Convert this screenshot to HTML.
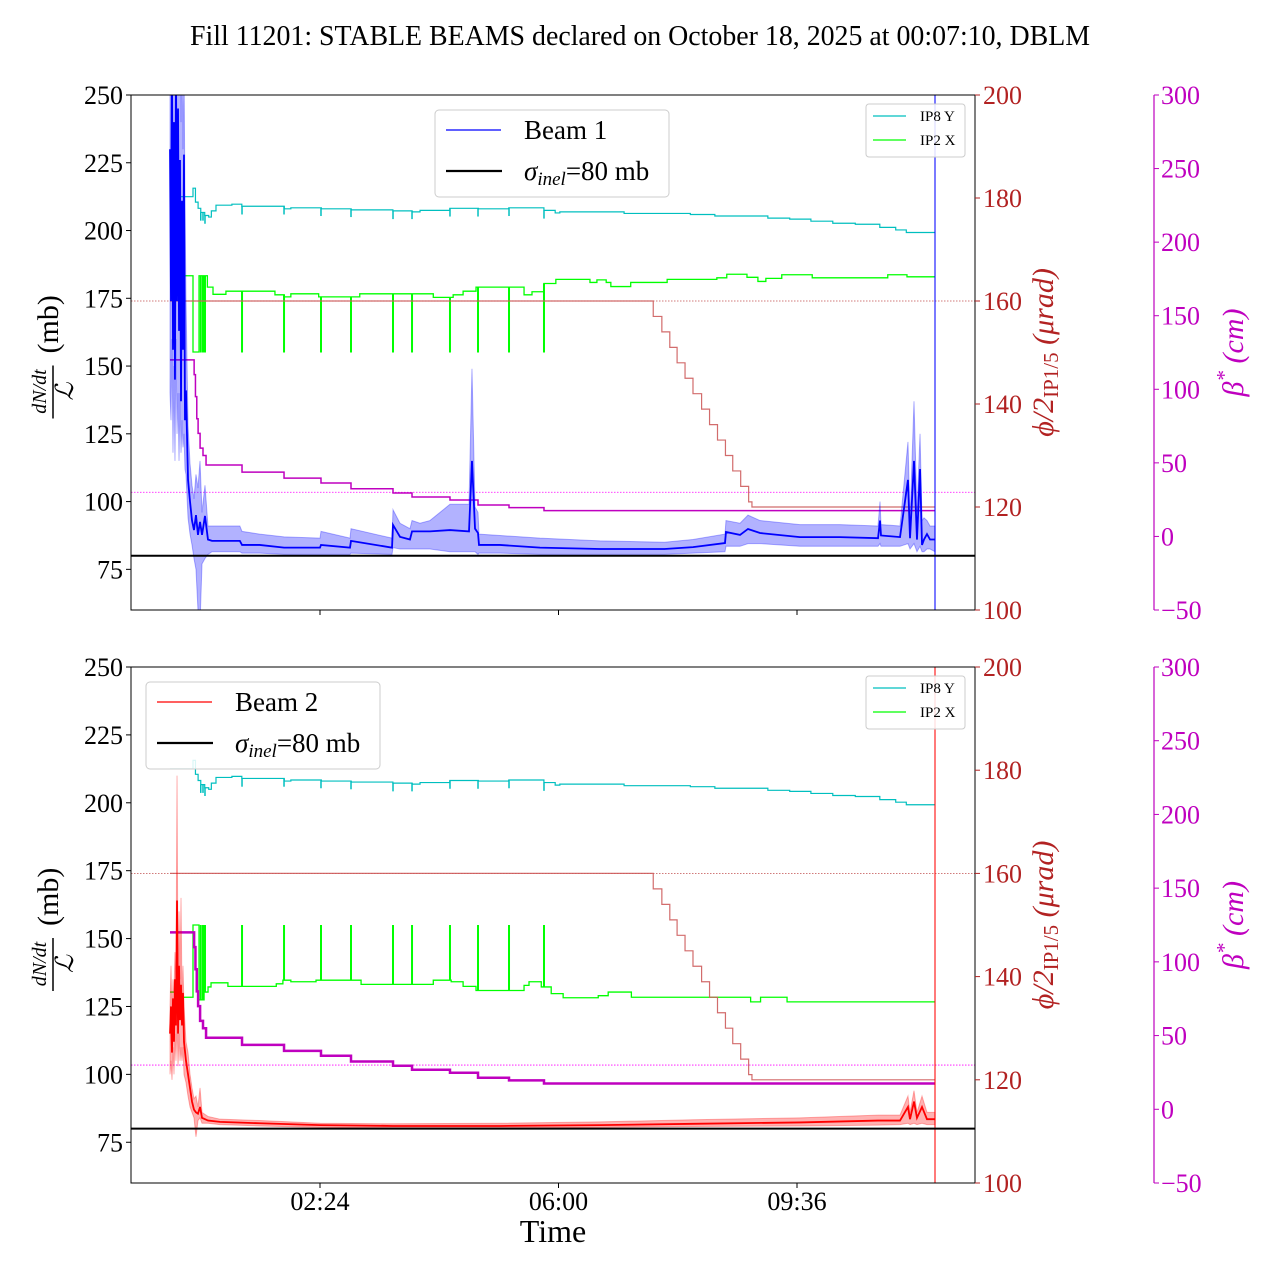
<!DOCTYPE html>
<html><head><meta charset="utf-8">
<style>
html,body{margin:0;padding:0;background:#fff;}
svg{display:block;font-family:"Liberation Serif","DejaVu Serif",serif;}
</style></head>
<body>
<svg id="chart" width="1280" height="1280" viewBox="0 0 1280 1280" xmlns="http://www.w3.org/2000/svg">
<rect x="0" y="0" width="1280" height="1280" fill="#fff"/>
<text x="640" y="45" font-size="28" text-anchor="middle" textLength="900" lengthAdjust="spacingAndGlyphs">Fill 11201: STABLE BEAMS declared on October 18, 2025 at 00:07:10, DBLM</text>
</svg>
<script>
// ---------- data ----------
const timeTickHours = [2.4, 6.0, 9.6];
const timeTickLabels = ["02:24", "06:00", "09:36"];
const leftTicks = [75, 100, 125, 150, 175, 200, 225, 250];
const phiTicks = [100, 120, 140, 160, 180, 200];
const betaTicks = [-50, 0, 50, 100, 150, 200, 250, 300];
const tEnd = 11.683;

const beam1T = [0.136,0.151,0.166,0.181,0.196,0.211,0.226,0.242,0.257,0.272,0.287,0.302,0.317,0.332,0.347,0.362,0.377,0.408,0.438,0.468,0.498,0.528,0.558,0.589,0.619,0.664,0.709,0.77,0.89,1.19,1.223,1.49,1.857,2.4,2.415,2.853,2.868,3.487,3.502,3.608,3.758,3.789,3.909,4.06,4.362,4.649,4.694,4.74,4.785,4.80,5.117,5.72,6.626,7.6,8.03,8.513,8.528,8.74,8.86,9.042,9.645,10.25,10.823,10.853,10.868,11.155,11.275,11.306,11.366,11.411,11.457,11.487,11.517,11.562,11.608,11.683];
const beam1Mid = [230,174,262,156,240,145,262,174,245,163,226,137,211,156,228,130,141,108,100,93,89.5,95,87.7,92.5,87.7,94.7,86,85.5,85.5,85.5,84,84,83,83,84,83,85.5,83,91.4,87,86,89,89,89,89.5,89,115,90,88.4,84,84,83,82.5,82.5,83.2,84.7,88.8,87.7,89.9,88.4,86.9,86.9,86.5,93,87.5,86.9,108,86.5,115,86,112,84,86,88,86,86];
const beam1Lo = [140,130,160,118,150,115,160,125,140,115,140,118,130,120,125,112,110,94,88,84,79,75,60,55,77,79,80.5,81.5,81.5,81.5,81,81,80.5,80.5,80.5,80.5,81,80.5,83,82.5,82.5,82.5,82.5,82.5,81.5,81.5,81.5,81.5,80.5,81,81,80.5,80.5,80.5,81,81.5,83.5,83.5,84.5,84.5,83.5,83.5,83.5,84.5,83.5,83.5,84.5,82.5,84.5,81.5,83.5,81.5,81.5,82.5,82.5,81.5];
const beam1Hi = [262,262,262,262,262,262,262,262,262,262,262,240,262,230,262,210,175,128,114,106,101,110,105,115,96,106,91,91,91,91,89,88,87,86.5,89,86.5,90,86.5,97,92,90,93,92,93,99,99,149,98,96,88,87.5,86.5,85.5,85,86,88,93,92,95,93,91.5,91.5,91,100,91.5,91,122,93,137,96,125,93,94,93,91,91];

const beam2T = [0.136,0.151,0.166,0.181,0.196,0.211,0.226,0.242,0.257,0.272,0.287,0.302,0.317,0.332,0.347,0.377,0.408,0.438,0.468,0.498,0.528,0.558,0.589,0.619,0.709,0.89,1.49,2.4,3.5,5.12,6.626,8.03,9.645,10.823,11.155,11.275,11.306,11.366,11.411,11.487,11.562,11.683];
const beam2Mid = [115,125,108,128,112,135,118,164,115,140,120,133,118,130,112,105,100,95,90,87,86,85.5,88,84,83,82.5,82,81.3,81,81,81.3,81.8,82.3,83,83,88,83.5,90,84,88,83.5,83.5];
const beam2Lo = [100,105,98,110,100,115,105,120,103,115,105,110,105,110,100,97,92,88,86,84,77,83,84,82,82,81.5,81,80.5,80.3,80.3,80.5,80.8,81,81.3,81.5,82,81.5,82,81.5,82,81.5,81.5];
const beam2Hi = [125,140,120,135,130,145,135,210,130,160,135,165,130,140,125,112,108,100,95,91,92,88,95,86,84.5,83.5,83,82,81.8,82,82.5,83.3,84,85,85,92,86,94,86,92,86,86];

const ip8T = [0.136,0.483,0.52,0.56,0.6,0.66,0.72,0.76,0.83,1.07,1.22,1.86,1.96,2.42,2.87,3.5,3.79,3.91,4.36,4.79,5.25,5.78,5.95,6.02,6.99,7.99,8.36,9.16,9.49,9.81,10.14,10.48,10.85,11.09,11.25];
const ip8V = [180.25,181.9,179.2,178.0,177.2,176.6,176.3,177.5,178.6,178.8,178.4,177.9,178.1,177.9,177.7,177.5,177.3,177.6,178.0,177.9,178.1,177.6,177.1,177.3,177.0,176.8,176.5,176.1,175.9,175.5,175.1,174.9,174.3,173.8,173.3];
const ip8DipT = [0.6,0.634,0.664,1.223,1.857,2.415,2.868,3.502,3.789,4.362,4.785,5.253,5.781];
const ip8DipDepth = 1.6;

const ip2TopT = [0.136,0.25,0.35,0.483,0.574,0.70,0.785,0.98,1.72,1.86,1.96,2.38,3.0,4.11,4.41,4.56,4.755,5.48,5.60,5.78,5.96,6.475,6.58,6.72,6.79,7.09,7.64,8.39,8.54,8.845,9.01,9.13,9.37,9.83,10.97,11.26];
const ip2TopV = [163.5,164.5,164.9,150.1,164.9,162.7,161.3,161.9,161.2,160.8,161.4,160.8,161.4,160.7,161.2,161.9,162.7,161.2,161.8,163.4,164.2,163.6,164.1,163.6,162.8,163.6,164.2,164.5,165.2,164.6,163.8,164.4,165.1,164.5,165.1,164.7];
const ip2BotT = [0.136,0.25,0.483,0.574,0.65,0.71,0.755,1.01,1.74,1.84,1.96,2.34,3.02,4.11,4.38,4.56,4.755,5.48,5.555,5.74,5.89,6.07,6.6,6.75,7.1,8.9,9.05,9.45];
const ip2BotV = [137.0,136.0,150,135.5,137.0,138.0,138.8,138.1,138.6,139.3,139.0,139.3,138.5,139.3,139.0,138.1,137.3,138.3,139.0,138.0,136.7,135.9,136.3,137.0,136.0,135.1,136.0,135.1];
const ip2SpikeT = [0.60,0.634,0.664,1.223,1.857,2.415,2.868,3.502,3.789,4.362,4.785,5.253,5.781];
const ip2SpikeV = 150;

const betaT = [0.136,0.483,0.5,0.52,0.54,0.56,0.59,0.634,0.68,1.223,1.857,2.415,2.868,3.502,3.789,4.362,4.785,5.253,5.781];
const betaV = [120,120,110,95,80,70,60,55,48.5,43.7,39.6,36.3,32.4,29.5,26.8,24.8,21.4,19.6,17.5];
const betaRef = 30;

const phiT = [0.136,7.43,7.56,7.68,7.79,7.91,8.03,8.16,8.28,8.40,8.52,8.63,8.75,8.87,8.92];
const phiV = [160,157,154,151,148,145,142,139,136,133,130,127,124,121,120];
const phiRef = 160;
const sigmaInel = 80;

// ---------- drawing ----------
const NS = "http://www.w3.org/2000/svg";
const svg = document.getElementById("chart");
function mk(tag, attrs, parent){
  const e = document.createElementNS(NS, tag);
  for (const k in attrs) e.setAttribute(k, attrs[k]);
  (parent||svg).appendChild(e);
  return e;
}
const PX0 = 131, PX1 = 975;
const X = t => 161 + t * 66.25;
const BLUE = "#0000ff", RED = "#ff0000", CYAN = "#00bfbf", GREEN = "#00ff00", MAG = "#bf00bf", PHIC = "#b22222";

function stepAt(ts, vs, t){ let v = vs[0]; for (let i=0;i<ts.length;i++){ if (ts[i] <= t) v = vs[i]; } return v; }
function stepPath(ts, vs, Y){
  let d = "M" + X(ts[0]).toFixed(2) + "," + Y(vs[0]).toFixed(2);
  for (let i=1;i<ts.length;i++) d += "H" + X(ts[i]).toFixed(2) + "V" + Y(vs[i]).toFixed(2);
  d += "H" + X(tEnd).toFixed(2);
  return d;
}
function linePath(ts, vs, Y){
  return ts.map((t,i)=>(i?"L":"M")+X(t).toFixed(2)+","+Y(vs[i]).toFixed(2)).join("");
}
function bandPath(ts, lo, hi, Y){
  let d = ts.map((t,i)=>(i?"L":"M")+X(t).toFixed(2)+","+Y(hi[i]).toFixed(2)).join("");
  for (let i=ts.length-1;i>=0;i--) d += "L"+X(ts[i]).toFixed(2)+","+Y(lo[i]).toFixed(2);
  return d + "Z";
}

function panel(idx, top, bot, beamName, beamColor, bandColor, bT, bMid, bLo, bHi, ip2T, ip2V, betaW, legendX){
  const g = mk("g", {});
  
  
  const H = bot - top;
  const YL = v => top + (250 - v) / 190 * H;
  const YP = v => top + (200 - v) / 100 * H;
  const YB = v => top + (300 - v) / 350 * H;
  const cid = "clip" + idx;
  const cp = mk("clipPath", {id: cid}, g);
  mk("rect", {x: PX0, y: top, width: PX1-PX0, height: H}, cp);
  const plot = mk("g", {"clip-path": "url(#" + cid + ")"}, g);
  
  

  const pr = mk("line", {x1: PX0, x2: PX1, y1: YP(phiRef), y2: YP(phiRef), stroke: PHIC, "stroke-width": 0.8, "stroke-dasharray": "1.5,1.5", opacity: 0.8}, plot);
  
  
  const br = mk("line", {x1: PX0, x2: PX1, y1: YB(betaRef), y2: YB(betaRef), stroke: "#ff00ff", "stroke-width": 0.8, "stroke-dasharray": "1.5,1.5"}, plot);
  
  

  const c = mk("path", {d: stepPath(ip8T, ip8V, YP), fill: "none", stroke: CYAN, "stroke-width": 1.2}, plot);
  
  
  ip8DipT.forEach(t => {
    const b = stepAt(ip8T, ip8V, t);
    const dl = mk("line", {x1: X(t), x2: X(t), y1: YP(b), y2: YP(b - ip8DipDepth), stroke: CYAN, "stroke-width": 1.5}, plot);
    
    
  });
  const gr = mk("path", {d: stepPath(ip2T, ip2V, YP), fill: "none", stroke: GREEN, "stroke-width": 1.3}, plot);
  
  
  ip2SpikeT.forEach(t => {
    const b = stepAt(ip2T, ip2V, t);
    const sl = mk("line", {x1: X(t), x2: X(t), y1: YP(b), y2: YP(ip2SpikeV), stroke: GREEN, "stroke-width": 2}, plot);
    
    
  });
  const ph = mk("path", {d: stepPath(phiT, phiV, YP), fill: "none", stroke: "#cd5c5c", "stroke-width": 1.2, opacity: 0.9}, plot);
  
  
  const be = mk("path", {d: stepPath(betaT, betaV, YB), fill: "none", stroke: MAG, "stroke-width": betaW}, plot);
  
  
  const bd = mk("path", {d: bandPath(bT, bLo, bHi, YL), fill: bandColor, stroke: bandColor, "stroke-width": 1}, plot);
  
  
  const bl = mk("path", {d: linePath(bT, bMid, YL), fill: "none", stroke: beamColor, "stroke-width": 1.8}, plot);
  
  
  const ev = mk("line", {x1: X(tEnd), x2: X(tEnd), y1: top, y2: bot, stroke: beamColor, "stroke-width": 1.3, opacity: 0.8}, plot);
  
  
  const si = mk("line", {x1: PX0, x2: PX1, y1: YL(sigmaInel), y2: YL(sigmaInel), stroke: "#000", "stroke-width": 2}, plot);
  
  

  const fr = mk("rect", {x: PX0, y: top, width: PX1-PX0, height: H, fill: "none", stroke: "#000", "stroke-width": 1}, g);
  
  

  leftTicks.forEach(v => {
    mk("line", {x1: PX0-5, x2: PX0, y1: YL(v), y2: YL(v), stroke: "#000", "stroke-width": 1}, g);
    const t = mk("text", {x: PX0-8, y: YL(v)+9, "font-size": 26, "text-anchor": "end"}, g);
    
    
    t.textContent = v;
  });
  phiTicks.forEach(v => {
    mk("line", {x1: PX1, x2: PX1+5, y1: YP(v), y2: YP(v), stroke: PHIC, "stroke-width": 1}, g);
    const t = mk("text", {x: PX1+8, y: YP(v)+9, "font-size": 26, fill: PHIC}, g);
    
    
    t.textContent = v;
  });
  const bs = mk("line", {x1: 1154, x2: 1154, y1: top, y2: bot, stroke: MAG, "stroke-width": 1.2}, g);
  
  
  betaTicks.forEach(v => {
    mk("line", {x1: 1154, x2: 1159, y1: YB(v), y2: YB(v), stroke: MAG, "stroke-width": 1}, g);
    const t = mk("text", {x: 1161, y: YB(v)+9, "font-size": 26, fill: MAG}, g);
    
    
    t.textContent = v < 0 ? "\u2212" + Math.abs(v) : v;
  });
  timeTickHours.forEach((h, i) => {
    mk("line", {x1: X(h), x2: X(h), y1: bot, y2: bot+5, stroke: "#000", "stroke-width": 1}, g);
    if (idx === 1) {
      const t = mk("text", {x: X(h), y: bot+27, "font-size": 26, "text-anchor": "middle"}, g);
      
      
      t.textContent = timeTickLabels[i];
    }
  });

  const mid = (top + bot) / 2;
  const lg = mk("g", {transform: "rotate(-90)"}, g);
  
  
  const mb = mk("text", {x: -(mid+1), y: 58, "font-size": 30}, lg); mb.textContent = "(mb)";
  mk("line", {x1: -(mid+66), x2: -(mid+13), y1: 53, y2: 53, stroke: "#000", "stroke-width": 1.5}, lg);
  const nu = mk("text", {x: -(mid+39), y: 46, "font-size": 20, "font-style": "italic", "text-anchor": "middle"}, lg); nu.textContent = "dN/dt";
  const de = mk("text", {x: -(mid+39), y: 73, "font-size": 25, "font-style": "italic", "text-anchor": "middle"}, lg); de.textContent = "\u2112";
  const pg = mk("g", {transform: "rotate(-90)"}, g);
  
  
  const pt = mk("text", {x: -mid, y: 1053, "font-size": 30, fill: PHIC, "text-anchor": "middle"}, pg);
  const s1 = mk("tspan", {"font-style": "italic"}, pt); s1.textContent = "\u03d5/2";
  const s2 = mk("tspan", {"font-size": 21, dy: 5}, pt); s2.textContent = "IP1/5";
  const s3 = mk("tspan", {"font-style": "italic", dy: -5}, pt); s3.textContent = " (\u03bcrad)";
  const bg = mk("g", {transform: "rotate(-90)"}, g);
  
  
  const bt = mk("text", {x: -mid, y: 1243, "font-size": 30, fill: MAG, "text-anchor": "middle", "font-style": "italic"}, bg);
  const b1 = mk("tspan", {}, bt); b1.textContent = "\u03b2";
  const b2 = mk("tspan", {"font-size": 21, dy: -12}, bt); b2.textContent = "*";
  const b3 = mk("tspan", {dy: 12}, bt); b3.textContent = " (cm)";

  const lx = legendX, ly = top + 15;
  const leg = mk("g", {}, g);
  
  
  mk("rect", {x: lx, y: ly, width: 234, height: 87, rx: 4, fill: "#fff", "fill-opacity": 0.85, stroke: "#cccccc", "stroke-width": 1}, leg);
  mk("line", {x1: lx+11, x2: lx+66, y1: ly+20, y2: ly+20, stroke: beamColor, "stroke-width": 1.2}, leg);
  const lt1 = mk("text", {x: lx+89, y: ly+29, "font-size": 27}, leg); lt1.textContent = beamName;
  mk("line", {x1: lx+11, x2: lx+67, y1: ly+61, y2: ly+61, stroke: "#000", "stroke-width": 2.2}, leg);
  const lt2 = mk("text", {x: lx+89, y: ly+70, "font-size": 27}, leg);
  const q1 = mk("tspan", {"font-style": "italic"}, lt2); q1.textContent = "\u03c3";
  const q2 = mk("tspan", {"font-style": "italic", "font-size": 19, dy: 5}, lt2); q2.textContent = "inel";
  const q3 = mk("tspan", {dy: -5}, lt2); q3.textContent = "=80 mb";

  const sl = mk("g", {}, g);
  
  
  mk("rect", {x: 866, y: top+9, width: 99, height: 53, rx: 3, fill: "#fff", "fill-opacity": 0.85, stroke: "#cccccc", "stroke-width": 1}, sl);
  mk("line", {x1: 873, x2: 906, y1: top+21, y2: top+21, stroke: CYAN, "stroke-width": 1.2}, sl);
  const st1 = mk("text", {x: 920, y: top+26, "font-size": 15}, sl); st1.textContent = "IP8 Y";
  mk("line", {x1: 873, x2: 906, y1: top+45, y2: top+45, stroke: GREEN, "stroke-width": 1.2}, sl);
  const st2 = mk("text", {x: 920, y: top+50, "font-size": 15}, sl); st2.textContent = "IP2 X";
}

panel(0, 95, 610, "Beam 1", BLUE, "rgba(0,0,255,0.3)", beam1T, beam1Mid, beam1Lo, beam1Hi, ip2TopT, ip2TopV, 1.5, 435);
panel(1, 667, 1183, "Beam 2", RED, "rgba(255,0,0,0.3)", beam2T, beam2Mid, beam2Lo, beam2Hi, ip2BotT, ip2BotV, 2.5, 146);

const xt = mk("text", {x: 553, y: 1242, "font-size": 32, "text-anchor": "middle"});


xt.textContent = "Time";
</script>
</body></html>
